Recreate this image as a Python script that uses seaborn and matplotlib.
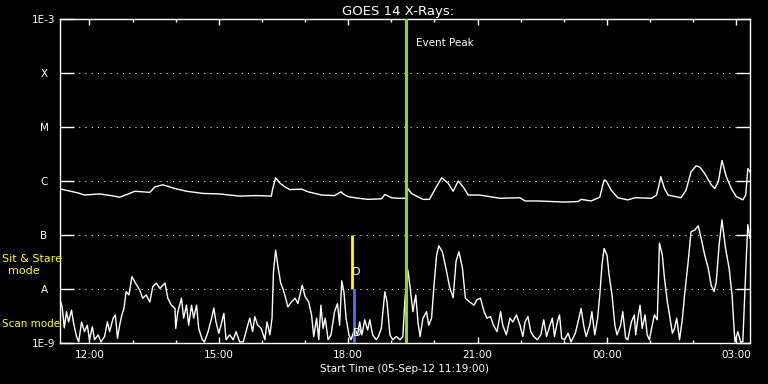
#!/usr/bin/env python3
# -*- coding: utf-8 -*-

import numpy as np
import pandas as pd
import seaborn as sns
import matplotlib
matplotlib.use('Agg')
import matplotlib.pyplot as plt
import matplotlib.dates as mdates
from matplotlib.ticker import NullLocator

START = pd.Timestamp('2012-09-05 11:19:00')
END = START + pd.Timedelta(hours=16)

# long channel (1-8 A): minutes after start, log10 flux (W/m^2)
long_min = [1, 25, 34, 55, 71, 83, 95, 104, 125, 132,
            143, 160, 176, 199, 222, 250, 273, 294, 296, 300,
            306, 313, 320, 336, 345, 364, 382, 391, 394, 401,
            415, 429, 447, 452, 461, 470, 480, 482, 484, 489,
            496, 505, 514, 521, 531, 540, 547, 554, 561, 568,
            584, 598, 612, 640, 647, 665, 684, 702, 721, 725,
            739, 751, 757, 760, 767, 776, 790, 800, 823, 830,
            836, 841, 846, 864, 871, 878, 885, 890, 897, 906,
            911, 916, 921, 927, 934, 941, 950, 954, 957, 960]
long_log = [-6.15, -6.22, -6.26, -6.24, -6.27, -6.30, -6.24, -6.19, -6.21, -6.11,
            -6.07, -6.14, -6.19, -6.23, -6.24, -6.28, -6.27, -6.28, -6.14, -5.94,
            -6.04, -6.11, -6.16, -6.15, -6.20, -6.26, -6.27, -6.20, -6.24, -6.29,
            -6.32, -6.34, -6.33, -6.25, -6.31, -6.32, -6.32, -6.29, -6.14, -6.23,
            -6.28, -6.34, -6.34, -6.17, -5.94, -6.04, -6.19, -6.00, -6.11, -6.26,
            -6.26, -6.29, -6.32, -6.31, -6.37, -6.37, -6.38, -6.39, -6.38, -6.34,
            -6.37, -6.30, -5.98, -6.00, -6.17, -6.31, -6.35, -6.31, -6.32, -6.26,
            -5.92, -6.14, -6.26, -6.31, -6.17, -5.83, -5.72, -5.74, -5.86, -6.07,
            -6.14, -6.01, -5.62, -5.92, -6.14, -6.29, -6.35, -6.26, -5.77, -5.83]

# short channel (0.5-4 A)
short_min = [1, 3, 6, 9, 12, 16, 19, 23, 26, 30,
             34, 38, 41, 45, 48, 53, 57, 62, 66, 69,
             74, 77, 80, 83, 86, 89, 92, 96, 100, 105,
             111, 115, 120, 125, 129, 134, 139, 146, 150, 155,
             160, 161, 164, 169, 172, 176, 179, 183, 186, 190, 193,
             198, 201, 206, 211, 214, 217, 221, 224, 228, 231,
             236, 241, 245, 250, 255, 260, 264, 268, 271, 275,
             280, 285, 288, 292, 295, 297, 300, 303, 307, 310,
             314, 317, 322, 327, 331, 337, 341, 346, 350, 353, 357, 360,
             363, 366, 369, 373, 377, 382, 386, 389, 392, 395,
             398, 402, 405, 410, 414, 417, 420, 424, 428, 431,
             435, 440, 443, 447, 452, 455, 459, 463, 468, 473,
             477, 480, 484, 487, 491, 495, 498, 501, 505, 510, 513,
             517, 520, 524, 527, 532, 537, 542, 547, 551, 555,
             560, 564, 570, 576, 580, 585, 590, 594, 599, 603,
             608, 613, 616, 621, 626, 630, 635, 640,
             641, 644, 647, 651, 655, 659, 664, 669, 673, 677,
             681, 685, 688, 692, 695, 698, 702, 707, 711, 717,
             722, 725, 729, 732, 737, 740, 744, 748, 751, 754,
             757, 761, 764, 768, 772, 775, 780, 783, 787, 790,
             795, 799, 801, 804, 807, 810, 814, 817, 820, 824, 827, 831,
             834, 838, 841, 845, 848, 852, 855, 858, 862, 866,
             869, 874, 878, 883, 888, 892, 897, 902, 906, 910,
             913, 917, 921, 926, 931, 935, 939, 943, 947, 950,
             955, 957, 960]
short_log = [-8.24, -8.33, -8.72, -8.42, -8.61, -8.39, -8.64, -8.88, -8.98, -8.61,
             -8.79, -8.67, -8.94, -8.70, -8.94, -8.85, -8.98, -8.88, -8.61, -8.79,
             -8.54, -8.48, -8.91, -8.67, -8.48, -8.36, -8.05, -8.11, -7.77, -7.89,
             -8.02, -8.17, -8.11, -8.24, -7.96, -7.89, -7.99, -7.89, -8.17, -8.30,
             -8.36, -8.73, -8.42, -8.17, -8.54, -8.30, -8.67, -8.30, -8.54, -8.30, -8.73,
             -8.94, -8.98, -8.79, -8.54, -8.35, -8.61, -8.82, -8.67, -8.45, -8.94,
             -8.85, -8.94, -8.79, -8.98, -8.98, -8.73, -8.54, -8.79, -8.51, -8.67,
             -8.73, -8.94, -8.61, -8.85, -8.54, -7.68, -7.28, -7.56, -7.89, -7.99,
             -8.17, -8.33, -8.24, -8.17, -8.27, -7.93, -8.14, -8.24, -8.48, -8.88, -8.54, -8.94,
             -8.30, -8.73, -8.54, -8.94, -8.85, -8.42, -8.27, -8.67, -7.85, -8.05,
             -8.54, -8.85, -8.94, -8.73, -8.85, -8.61, -8.85, -8.57, -8.76, -8.57,
             -8.85, -8.94, -8.88, -8.73, -8.05, -8.24, -8.85, -8.94, -8.88, -8.94,
             -8.88, -8.17, -7.65, -7.96, -8.42, -8.11, -8.61, -8.88, -8.54, -8.42, -8.67,
             -8.54, -7.99, -7.37, -7.20, -7.31, -7.62, -7.96, -8.16, -7.49, -7.31,
             -7.62, -8.17, -8.24, -8.30, -8.20, -8.17, -8.42, -8.54, -8.51, -8.67,
             -8.79, -8.42, -8.67, -8.85, -8.54, -8.61, -8.48, -8.67,
             -8.73, -8.88, -8.61, -8.51, -8.79, -8.88, -8.94, -8.85, -8.57, -8.88,
             -8.70, -8.54, -8.88, -8.61, -8.48, -8.91, -8.94, -8.82, -8.98, -8.82,
             -8.54, -8.36, -8.70, -8.88, -8.67, -8.42, -8.85, -8.54, -8.11, -7.56,
             -7.25, -7.37, -7.74, -8.11, -8.67, -8.85, -8.67, -8.42, -8.91, -8.94,
             -8.61, -8.48, -8.85, -8.54, -8.30, -8.73, -8.48, -8.85, -8.94, -8.67, -8.48, -8.57,
             -7.15, -7.37, -7.80, -8.24, -8.48, -8.82, -8.73, -8.54, -8.94, -8.54,
             -8.11, -7.49, -6.94, -6.91, -6.83, -7.06, -7.37, -7.62, -7.93, -8.05,
             -7.87, -7.19, -6.72, -7.25, -7.62, -8.11, -8.98, -8.79, -8.98, -8.98,
             -7.37, -6.81, -7.06]

# event markers (minutes after start)
peak_min = 482
stare_min = 406
scan_min = 409.5
marker_min = [412, 414]
marker_log = [-7.69, -8.82]

level_ticks = [1e-9, 1e-8, 1e-7, 1e-6, 1e-5, 1e-4, 1e-3]
level_labels = ['1E-9', 'A', 'B', 'C', 'M', 'X', '1E-3']

FS = 7.5


def to_time(minutes):
    return START + pd.to_timedelta(np.asarray(minutes, dtype=float), unit='m')


def main():
    long_df = pd.DataFrame({'time': to_time(long_min),
                            'flux': 10.0 ** np.array(long_log)})
    short_df = pd.DataFrame({'time': to_time(short_min),
                             'flux': 10.0 ** np.array(short_log)})

    fig = plt.figure(figsize=(7.68, 3.84), dpi=100, facecolor='black')
    ax = fig.add_axes([60 / 768, 41 / 384, 690 / 768, 324 / 384],
                      facecolor='black')

    sns.lineplot(data=long_df, x='time', y='flux', color='white', lw=1.0,
                 estimator=None, sort=False, ax=ax)
    sns.lineplot(data=short_df, x='time', y='flux', color='white', lw=1.0,
                 estimator=None, sort=False, ax=ax)

    ax.set_yscale('log')
    ax.set_ylim(1e-9, 1e-3)
    ax.set_xlim(mdates.date2num(START.to_pydatetime()),
                mdates.date2num(END.to_pydatetime()))

    # mode / peak markers
    ax.axvline(to_time([peak_min])[0], color='#9acd32', lw=2.2, zorder=3)
    ax.vlines(to_time([stare_min])[0], 1e-8, 1e-7, color='#ffff00', lw=2.0, zorder=3)
    ax.vlines(to_time([scan_min])[0], 1e-9, 1e-8, color='#6666ff', lw=2.0, zorder=3)
    for m, v in zip(marker_min, marker_log):
        ax.text(to_time([m])[0], 10.0 ** v, 'D', color='white', fontsize=8,
                ha='center', va='center', zorder=4)
    ax.text(to_time([peak_min + 14])[0], 10.0 ** -3.44, 'Event Peak',
            color='white', fontsize=FS, ha='left', va='center')

    # y axis: GOES classes
    ax.set_yticks(level_ticks)
    ax.set_yticklabels(level_labels)
    ax.yaxis.set_minor_locator(NullLocator())
    ax.tick_params(axis='y', which='major', direction='in', length=10,
                   width=1, left=True, right=True, colors='white',
                   labelsize=FS, pad=11.5)
    for lab in ax.get_yticklabels():
        lab.set_horizontalalignment('center')

    # x axis: hours
    ax.xaxis.set_major_locator(mdates.HourLocator(byhour=range(0, 24, 3)))
    ax.xaxis.set_minor_locator(mdates.HourLocator())
    ax.xaxis.set_major_formatter(mdates.DateFormatter('%H:%M'))
    ax.tick_params(axis='x', which='major', direction='in', length=4.5,
                   width=1, top=True, bottom=True, colors='white',
                   labelsize=FS, pad=5)
    ax.tick_params(axis='x', which='minor', direction='in', length=2.5,
                   width=1, top=True, bottom=True, colors='white')

    ax.grid(False)
    ax.yaxis.grid(True, which='major', color='white',
                  linestyle=(0, (1, 5)), linewidth=0.75)

    for s in ax.spines.values():
        s.set_color('white')
        s.set_linewidth(1)

    ax.set_ylabel('')
    ax.set_xlabel('Start Time (05-Sep-12 11:19:00)', color='white',
                  fontsize=FS, labelpad=3)
    ax.set_title('GOES 14 X-Rays:', color='white', fontsize=9.5, pad=3,
                 x=0.49)

    fig.text(2 / 768, 1 - 259 / 384, 'Sit & Stare', color='#ffff00',
             fontsize=8, ha='left', va='center')
    fig.text(24 / 768, 1 - 271 / 384, 'mode', color='#ffff00',
             fontsize=8, ha='center', va='center')
    fig.text(2 / 768, 1 - 324 / 384, 'Scan mode', color='#ffff00',
             fontsize=FS, ha='left', va='center')

    fig.savefig('out.png', dpi=100, facecolor='black')


if __name__ == '__main__':
    main()
